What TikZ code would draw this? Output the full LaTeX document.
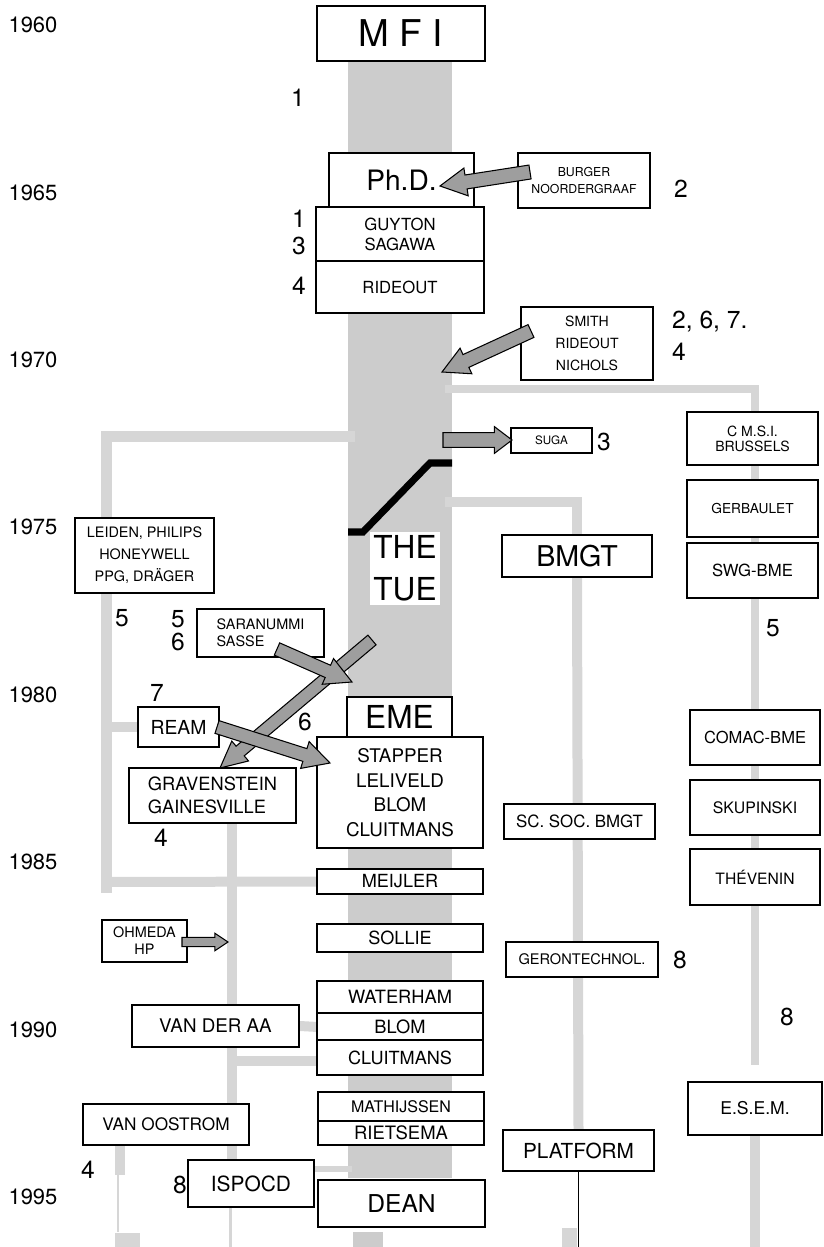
\documentclass[tikz,border=0pt]{standalone}
\usepackage{fontspec}
\setmainfont{TeX Gyre Heros}
\usetikzlibrary{calc,backgrounds}
\definecolor{colgray}{gray}{0.80}
\definecolor{bandgray}{gray}{0.84}
\definecolor{arrowgray}{gray}{0.62}
\tikzset{
  box/.style={draw, line width=1.1pt, fill=white, inner sep=1pt, align=center},
  fs/.style 2 args={font=\fontsize{#1}{#2}\selectfont},
  year/.style={fs={12.5}{15}},
  num/.style={fs={14}{16}},
  band/.style={draw=bandgray, line width=0.2cm},
  fatarrow/.style={draw, line width=0.6pt, fill=arrowgray, line join=miter},
}
% fat gray arrow: tail, tip, half shaft, half head, head length
\newcommand\fatarrow[5]{%
  \coordinate (fh) at ($(#2)!#5!(#1)$);
  \draw[fatarrow] ($(#1)!#3!90:(#2)$) -- ($(fh)!#3!90:(#2)$) -- ($(fh)!#4!90:(#2)$)
    -- (#2) -- ($(fh)!#4!-90:(#2)$) -- ($(fh)!#3!-90:(#2)$) -- ($(#1)!#3!-90:(#2)$) -- cycle;
}
\begin{document}
\begin{tikzpicture}[x=0.02cm, y=-0.02cm]
        \useasboundingbox (0,0) rectangle (824,1247);
        % Years
        \foreach \yr [count=\i from 0] in {1960,1965,...,1995}
            \node[year] (y\yr) at (33, 25+167.4*\i) {\yr};
        % Main column
        \node[box, minimum width=3.36cm, minimum height=1.10cm, fs={21}{24}] (mfi) at (401,33.5) {M F I};
        \node[box, minimum width=2.90cm, minimum height=1.08cm, fs={16}{19}] (phd) at (401.5,180) {Ph.D.};
        \node[box, minimum width=3.36cm, minimum height=1.08cm, fs={9.5}{11.3}] (guyton) at (400,234) {GUYTON\\SAGAWA};
        \node[box, minimum width=3.36cm, minimum height=1.04cm, fs={9.5}{11.3}] (rideout) at (400,287) {RIDEOUT};
        \node[fill=white, inner sep=0pt, minimum width=1.40cm, minimum height=1.46cm, align=center, fs={18}{24}] (tue) at (405,568.5) {THE\\TUE};
        \node[box, minimum width=2.10cm, minimum height=0.80cm, fs={18}{20}] (eme) at (399.5,717) {EME};
        \node[box, minimum width=3.32cm, minimum height=2.22cm, fs={10.7}{14}] (stapper) at (400,792.5) {STAPPER\\LELIVELD\\BLOM\\CLUITMANS};
        \node[box, minimum width=3.32cm, minimum height=0.50cm, fs={10.3}{12}] (meijler) at (400,881.5) {MEIJLER};
        \node[box, minimum width=3.32cm, minimum height=0.56cm, fs={10.3}{12}] (sollie) at (400,938) {SOLLIE};
        \node[box, minimum width=3.32cm, minimum height=0.64cm, fs={10.4}{12}] (waterham) at (400,997) {WATERHAM};
        \node[box, minimum width=3.32cm, minimum height=0.54cm, fs={10.4}{12}] (blom) at (400,1026.5) {BLOM};
        \node[box, minimum width=3.32cm, minimum height=0.70cm, fs={10.3}{12}] (cluitmans) at (400,1057.5) {CLUITMANS};
        \node[box, minimum width=3.32cm, minimum height=0.58cm, fs={9.1}{11}] (mathijssen) at (401,1106.5) {MATHIJSSEN};
        \node[box, minimum width=3.32cm, minimum height=0.48cm, fs={10.5}{12}] (rietsema) at (401,1133) {RIETSEMA};
        \node[box, minimum width=3.34cm, minimum height=0.94cm, fs={14}{16}] (dean) at (401.5,1203.5) {DEAN};
        % Right of the column
        \node[box, minimum width=2.64cm, minimum height=1.10cm, fs={7}{10}] (burger) at (584,180.5) {BURGER\\NOORDERGRAAF};
        \node[box, minimum width=2.64cm, minimum height=1.46cm, fs={8}{12.7}] (smith) at (587,343.5) {SMITH\\RIDEOUT\\NICHOLS};
        \node[box, minimum width=1.62cm, minimum height=0.50cm, fs={6.6}{8}] (suga) at (551.5,440.5) {SUGA};
        \node[box, minimum width=3.00cm, minimum height=0.84cm, fs={16.3}{18}] (bmgt) at (577,556) {BMGT};
        \node[box, minimum width=3.02cm, minimum height=0.70cm, fs={9.6}{11}] (scsoc) at (579.5,821.5) {SC. SOC. BMGT};
        \node[box, minimum width=3.04cm, minimum height=0.70cm, fs={8.3}{10}] (geron) at (582,959.5) {GERONTECHNOL.};
        \node[box, minimum width=3.02cm, minimum height=0.82cm, fs={11.8}{14}] (platform) at (578.5,1150.5) {PLATFORM};
        % Far right
        \node[box, minimum width=2.62cm, minimum height=1.06cm, fs={8}{8.5}] (cmsi) at (752.5,438.5) {C M.S.I.\\BRUSSELS};
        \node[box, minimum width=2.62cm, minimum height=1.14cm, fs={7.8}{9}] (gerbaulet) at (752.5,508.5) {GERBAULET};
        \node[box, minimum width=2.62cm, minimum height=1.10cm, fs={9.5}{11}] (swg) at (752.5,570.5) {SWG-BME};
        \node[box, minimum width=2.60cm, minimum height=1.10cm, fs={9.4}{11}] (comac) at (755,737.5) {COMAC-BME};
        \node[box, minimum width=2.60cm, minimum height=1.10cm, fs={9}{11}] (skupinski) at (755,807.5) {SKUPINSKI};
        \node[box, minimum width=2.60cm, minimum height=1.12cm, fs={8.9}{11}] (thevenin) at (755,877) {THÉVENIN};
        \node[box, minimum width=2.68cm, minimum height=1.06cm, fs={10}{12}] (esem) at (755,1108.5) {E.S.E.M.};
        % Left of the column
        \node[box, minimum width=2.78cm, minimum height=1.50cm, fs={8.2}{12.5}] (leiden) at (144.5,555.5) {LEIDEN, PHILIPS\\HONEYWELL\\PPG, DRÄGER};
        \node[box, minimum width=2.54cm, minimum height=0.96cm, align=left, fs={8.2}{9.6}] (saranummi) at (260.5,633) {SARANUMMI\\SASSE};
        \node[box, minimum width=1.62cm, minimum height=0.80cm, fs={11}{13}] (ream) at (178.5,727) {REAM};
        \node[box, minimum width=3.34cm, minimum height=1.10cm, align=left, fs={10.4}{13}] (gravenstein) at (212.5,795.5) {GRAVENSTEIN\\GAINESVILLE};
        \node[box, minimum width=1.70cm, minimum height=0.84cm, fs={8.2}{9.6}] (ohmeda) at (144.5,941) {OHMEDA\\HP};
        \node[box, minimum width=3.34cm, minimum height=0.84cm, fs={10.7}{12}] (vanderaa) at (215.5,1026) {VAN DER AA};
        \node[box, minimum width=3.32cm, minimum height=0.82cm, fs={9.8}{12}] (vanoostrom) at (166,1124.5) {VAN OOSTROM};
        \node[box, minimum width=2.52cm, minimum height=0.94cm, fs={11.9}{14}] (ispocd) at (251,1183.5) {ISPOCD};
        % Numbers
        \node[num] (n1a) at (298,98) {1};
        \node[num] (n1b) at (299,219) {1};
        \node[num] (n3a) at (299,246) {3};
        \node[num] (n4a) at (299,286) {4};
        \node[num] (n2a) at (681,189) {2};
        \node[num, anchor=west] (n267) at (666,322) {2, 6, 7.};
        \node[num, anchor=west] (n4b) at (666,352) {4};
        \node[num] (n3b) at (604,442) {3};
        \node[num] (n5a) at (122,618) {5};
        \node[num] (n5b) at (178,619) {5};
        \node[num] (n6a) at (178,642) {6};
        \node[num] (n5c) at (773,628) {5};
        \node[num] (n7) at (157,693) {7};
        \node[num] (n6b) at (305,722) {6};
        \node[num] (n4c) at (161,838) {4};
        \node[num] (n8a) at (680,960) {8};
        \node[num] (n8b) at (787,1017) {8};
        \node[num] (n4d) at (88,1170) {4};
        \node[num] (n8c) at (180,1185) {8};
        % Gray column and branches
        \begin{scope}[on background layer]
            \fill[colgray] (348,62) rectangle (452,1178);
            \fill[colgray] (353,1232) rectangle (383,1247);
            \draw[band, line width=0.17cm] (445,389) -| (755,1065);
            \draw[band] (esem.south) -- (755,1247);
            \draw[band] (445,502) -| (bmgt.north);
            \draw[band] (bmgt.south) -- (platform.north);
            \draw[band, line width=0.22cm] (355,436) -| (106,893);
            \draw[band] (106,882) -- (meijler.west);
            \draw[band] (106,727) -- (ream.west);
            \draw[band] (232,823) -- (232,1165);
            \draw[bandgray, line width=0.06cm] (230,1200) -- (230,1247);
            \draw[band] (vanderaa.east) -- (318,1027);
            \draw[band] (232,1061) -- (318,1061);
            \draw[band, line width=0.12cm] (314,1169) -- (352,1169);
            \draw[band] (120,1146) -- (120,1175);
            \draw[bandgray, line width=0.05cm] (118,1175) -- (118,1232);
            \fill[bandgray] (115,1233) rectangle (140,1247);
            \fill[bandgray] (562,1228) rectangle (577,1247);
        \end{scope}
        \draw[line width=0.6pt] (platform.south) -- ++(0,77);
        % The step into THE TUE
        \draw[line width=4pt, line join=miter] (348,532) -- (363,532) -- (430,463) -- (452,463);
        % Fat arrows
        \coordinate (burger-out) at (530,172);
        \coordinate (phd-in) at (440,186);
        \fatarrow{burger-out}{phd-in}{4pt}{8pt}{15pt}
        \coordinate (smith-out) at (531,331);
        \coordinate (col-in) at (442,372);
        \fatarrow{smith-out}{col-in}{4pt}{8pt}{15pt}
        \coordinate (col-out) at (443,440);
        \coordinate (suga-in) at (512,440);
        \fatarrow{col-out}{suga-in}{4.2pt}{7.6pt}{10pt}
        \coordinate (tue-out) at (372,640);
        \coordinate (grav-in) at (220,768);
        \fatarrow{tue-out}{grav-in}{3.6pt}{7.4pt}{15pt}
        \coordinate (sasse-out) at (277,649);
        \coordinate (eme-in) at (352,682);
        \fatarrow{sasse-out}{eme-in}{3.8pt}{8pt}{15pt}
        \coordinate (ream-out) at (217,727);
        \coordinate (stapper-in) at (330,763);
        \fatarrow{ream-out}{stapper-in}{3.8pt}{8pt}{15pt}
        \coordinate (ohmeda-out) at (182,942);
        \coordinate (line-in) at (228,942);
        \fatarrow{ohmeda-out}{line-in}{2.6pt}{5pt}{7.5pt}
    \end{tikzpicture}
\end{document}
